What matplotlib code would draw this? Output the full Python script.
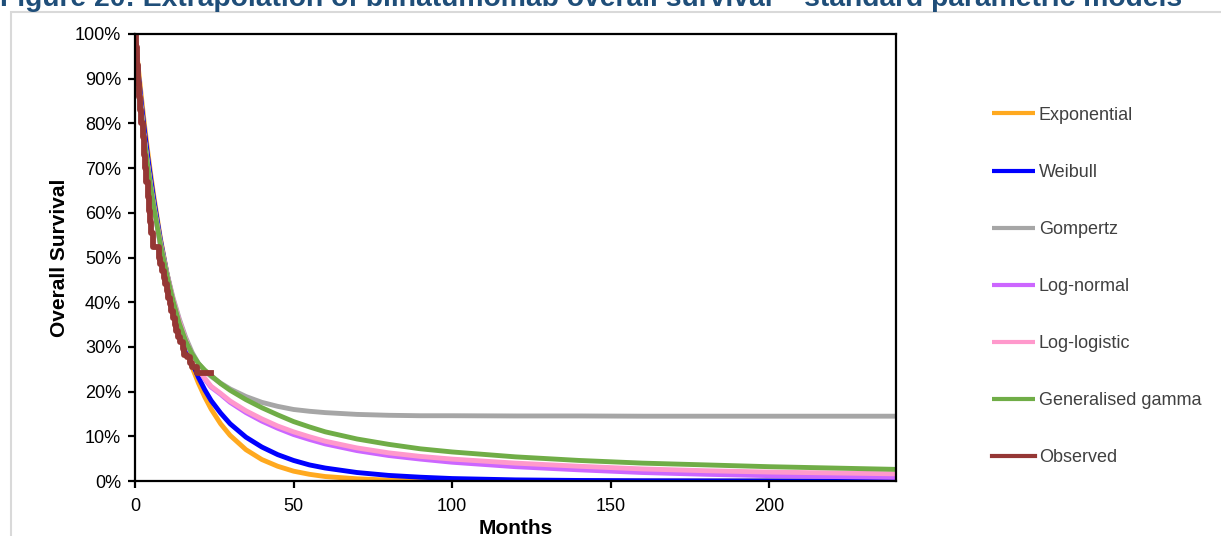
import matplotlib
matplotlib.use("Agg")
import matplotlib.pyplot as plt
from matplotlib.patches import Rectangle
from matplotlib.ticker import FuncFormatter

plt.rcParams['font.family'] = ['Liberation Sans', 'DejaVu Sans']

months = [0, 1, 2, 3, 4, 5, 6, 8, 10, 12, 14, 16, 18, 20, 22, 24, 27, 30, 35, 40, 45,
          50, 55, 60, 70, 80, 90, 100, 120, 140, 160, 180, 200, 220, 240]

exponential = [100, 92.7, 86, 79.6, 73.8, 68.4, 63.4, 54.4, 46.8, 40.2, 34.5, 29.6, 25.5, 21.9, 18.8,
               16.1, 12.8, 10.2, 7.0, 4.8, 3.3, 2.2, 1.5, 1.0, 0.5, 0.2, 0.1, 0.05, 0, 0, 0, 0, 0, 0, 0]
weibull = [100, 91.5, 84.5, 78.3, 72.6, 67.4, 62.6, 54.0, 46.6, 40.3, 35.0, 30.4, 26.5, 23.2, 20.4,
           18.0, 15.2, 12.8, 9.8, 7.6, 5.9, 4.6, 3.6, 2.9, 1.9, 1.25, 0.85, 0.55, 0.25, 0.12, 0.06,
           0.03, 0.01, 0, 0]
gompertz = [100, 90.5, 83, 76.5, 71, 66, 61.5, 53.5, 46.7, 41, 36.2, 32.1, 28.8, 26.3, 24.6,
            23.4, 21.9, 20.6, 18.9, 17.6, 16.7, 16.0, 15.6, 15.3, 14.9, 14.7, 14.6, 14.6, 14.55,
            14.55, 14.5, 14.5, 14.5, 14.5, 14.5]
lognormal = [100, 90, 82.5, 76, 70.5, 65.5, 61, 53, 46.2, 40.5, 35.6, 31.5, 28.0, 25.0, 22.8,
             21.0, 19.4, 17.6, 15.3, 13.4, 11.8, 10.4, 9.3, 8.3, 6.8, 5.7, 4.9, 4.2, 3.2, 2.5, 1.9,
             1.5, 1.2, 1.0, 0.8]
loglogistic = [100, 90, 82.5, 76, 70.5, 65.5, 61, 53, 46.3, 40.6, 35.7, 31.6, 28.1, 25.2, 23.0,
               21.2, 19.6, 17.9, 15.7, 13.9, 12.3, 11.0, 9.9, 8.9, 7.4, 6.3, 5.5, 4.9, 4.0, 3.3, 2.7,
               2.3, 2.0, 1.8, 1.6]
gengamma = [100, 90, 82.5, 76, 70.5, 65.5, 61, 53, 46.2, 40.3, 35.2, 31.3, 28.4, 26.3, 24.8,
            23.6, 21.8, 20.3, 18.2, 16.4, 14.8, 13.3, 12.1, 11.0, 9.4, 8.2, 7.2, 6.5, 5.4, 4.6, 4.0,
            3.6, 3.2, 2.9, 2.6]

obs_t = [0, 0.3, 0.7, 1.0, 1.3, 1.7, 2.0, 2.4, 2.8, 3.2, 3.6, 4.0, 4.4, 4.8, 5.2, 5.7, 7.6, 8.0,
         8.5, 9.0, 9.5, 10.0, 10.5, 11.0, 11.5, 12.0, 12.5, 13.0, 13.6, 14.3, 15.0, 15.6, 16.4,
         17.2, 18.0, 19.6, 24.0]
obs_s = [100, 97, 93, 89, 86, 83, 80, 77, 73, 70, 67, 63.5, 60.5, 58, 55.5, 52.3, 50, 48.5, 47,
         45.5, 44, 42.5, 41, 39.5, 38, 36.5, 35, 33.5, 32.2, 31, 29.5, 28.2, 27.8, 26.5, 25.5,
         24.1, 24.1]

series = [
    ("Exponential", exponential, "#FFA91F"),
    ("Weibull", weibull, "#0000FF"),
    ("Gompertz", gompertz, "#A6A6A6"),
    ("Log-normal", lognormal, "#CC66FF"),
    ("Log-logistic", loglogistic, "#FF99CC"),
    ("Generalised gamma", gengamma, "#70AD47"),
]

W, H = 1221, 536
fig = plt.figure(figsize=(W / 100, H / 100), dpi=100)
fig.patch.set_facecolor("white")

# outer frame (light grey)
fig.add_artist(Rectangle((10.5 / W, -0.1), 1.2, 1.1 - 12 / H, transform=fig.transFigure,
                         fill=False, edgecolor="#D9D9D9", linewidth=1.5))

# partially cut-off title, as in the source document
fig.text(0.0, 1 - 6.5 / H, "Figure 20: Extrapolation of blinatumomab overall survival \u2013 standard parametric models",
         ha="left", va="baseline", fontsize=20.3, fontweight="bold", color="#1F4E79")

ax = fig.add_axes([135 / W, 1 - 481 / H, (896 - 135) / W, (481 - 34) / H])

handles = []
for name, vals, col in series:
    h, = ax.plot(months, vals, color=col, lw=3.5, label=name, solid_capstyle="butt")
    handles.append(h)
h_obs, = ax.plot(obs_t, obs_s, color="#953735", lw=4.2, drawstyle="steps-post", label="Observed")
handles.append(h_obs)

ax.set_xlim(0, 240)
ax.set_ylim(0, 100)
ax.set_xticks([0, 50, 100, 150, 200])
ax.set_yticks(range(0, 101, 10))
ax.yaxis.set_major_formatter(FuncFormatter(lambda v, p: f"{int(v)}%"))
for s in ax.spines.values():
    s.set_linewidth(1.6)
    s.set_color("black")
ax.tick_params(axis="both", direction="out", length=5, width=1.6, labelsize=13, colors="black")
ax.tick_params(axis="x", pad=7)
ax.tick_params(axis="y", pad=5)
ax.set_xlabel("Months", fontsize=15, fontweight="bold", labelpad=3)
ax.set_ylabel("Overall Survival", fontsize=15, fontweight="bold", labelpad=4)

leg = fig.legend(handles=handles, loc="center left", bbox_to_anchor=(992 / W, 1 - 286.5 / H),
                 frameon=False, fontsize=13, handlelength=2.4, handletextpad=0.2,
                 labelspacing=2.22, borderpad=0, borderaxespad=0)
for t in leg.get_texts():
    t.set_color("#404040")
for l in leg.get_lines():
    l.set_linewidth(3.0)

fig.savefig("out.png", dpi=100)
